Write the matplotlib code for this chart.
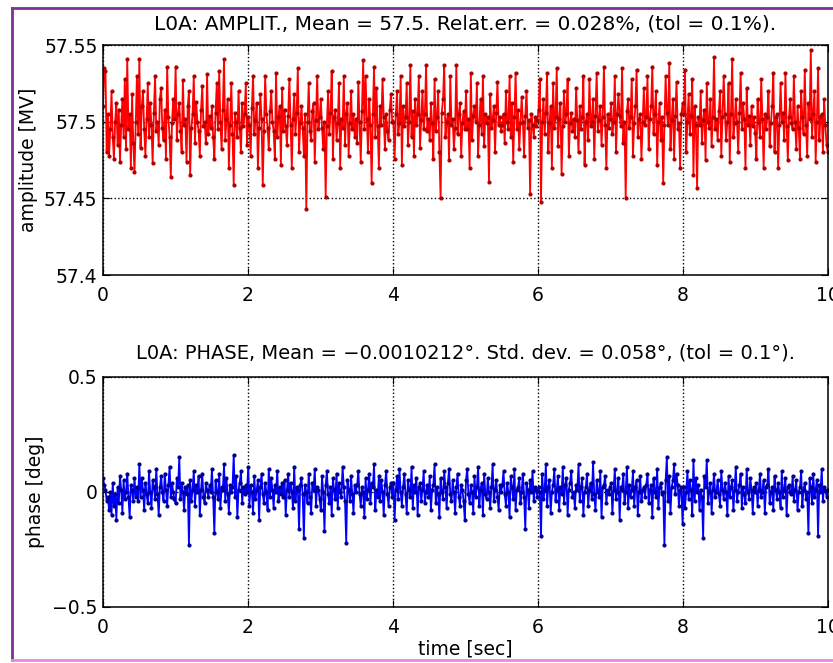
import numpy as np
import matplotlib
matplotlib.use("Agg")
import matplotlib.pyplot as plt
from matplotlib.lines import Line2D

plt.rcParams['font.family'] = ['DejaVu Sans']

# sampled RF signal, 10 s record
duration = 10.0

amplitude = [
    57.510, 57.535, 57.533, 57.480, 57.505, 57.478, 57.495, 57.520, 57.490, 57.476,
    57.500, 57.512, 57.485, 57.508, 57.474, 57.498, 57.515, 57.490, 57.528, 57.482,
    57.541, 57.495, 57.505, 57.470, 57.518, 57.486, 57.467, 57.500, 57.530, 57.492,
    57.541, 57.483, 57.510, 57.520, 57.495, 57.478, 57.502, 57.525, 57.490, 57.512,
    57.498, 57.473, 57.506, 57.530, 57.494, 57.500, 57.485, 57.515, 57.522, 57.496,
    57.488, 57.508, 57.476, 57.536, 57.503, 57.490, 57.464, 57.499, 57.515, 57.502,
    57.536, 57.488, 57.505, 57.512, 57.494, 57.480, 57.527, 57.498, 57.502, 57.474,
    57.510, 57.520, 57.465, 57.496, 57.505, 57.530, 57.486, 57.513, 57.500, 57.494,
    57.478, 57.508, 57.523, 57.497, 57.500, 57.486, 57.531, 57.492, 57.504, 57.496,
    57.510, 57.490, 57.476, 57.506, 57.525, 57.495, 57.533, 57.500, 57.482, 57.508,
    57.541, 57.488, 57.502, 57.515, 57.470, 57.498, 57.525, 57.492, 57.459, 57.506,
    57.500, 57.490, 57.520, 57.496, 57.480, 57.512, 57.497, 57.505, 57.525, 57.485,
    57.503, 57.498, 57.478, 57.509, 57.530, 57.492, 57.501, 57.512, 57.470, 57.496,
    57.518, 57.502, 57.459, 57.494, 57.530, 57.505, 57.496, 57.482, 57.507, 57.520,
    57.500, 57.494, 57.476, 57.532, 57.490, 57.503, 57.510, 57.472, 57.522, 57.494,
    57.508, 57.497, 57.485, 57.504, 57.528, 57.498, 57.470, 57.502, 57.518, 57.492,
    57.506, 57.535, 57.480, 57.499, 57.510, 57.496, 57.478, 57.505, 57.443, 57.500,
    57.525, 57.494, 57.488, 57.507, 57.512, 57.474, 57.501, 57.530, 57.495, 57.503,
    57.515, 57.496, 57.482, 57.500, 57.451, 57.497, 57.520, 57.492, 57.506, 57.533,
    57.476, 57.503, 57.508, 57.488, 57.499, 57.525, 57.470, 57.502, 57.496, 57.530,
    57.485, 57.505, 57.512, 57.478, 57.499, 57.520, 57.495, 57.505, 57.490, 57.502,
    57.486, 57.526, 57.500, 57.474, 57.507, 57.540, 57.495, 57.530, 57.502, 57.480,
    57.515, 57.498, 57.460, 57.505, 57.536, 57.490, 57.522, 57.497, 57.470, 57.510,
    57.498, 57.528, 57.503, 57.482, 57.505, 57.494, 57.488, 57.508, 57.518, 57.500,
    57.500, 57.476, 57.505, 57.520, 57.492, 57.499, 57.530, 57.472, 57.510, 57.497,
    57.503, 57.525, 57.485, 57.500, 57.537, 57.490, 57.507, 57.478, 57.515, 57.498,
    57.505, 57.530, 57.483, 57.501, 57.520, 57.495, 57.505, 57.537, 57.494, 57.502,
    57.488, 57.512, 57.499, 57.476, 57.528, 57.494, 57.503, 57.520, 57.480, 57.450,
    57.506, 57.515, 57.537, 57.490, 57.500, 57.505, 57.475, 57.530, 57.498, 57.502,
    57.482, 57.496, 57.537, 57.492, 57.505, 57.512, 57.478, 57.499, 57.507, 57.495,
    57.520, 57.495, 57.502, 57.470, 57.532, 57.488, 57.504, 57.510, 57.500, 57.525,
    57.478, 57.498, 57.515, 57.492, 57.530, 57.484, 57.505, 57.499, 57.503, 57.461,
    57.518, 57.496, 57.501, 57.510, 57.480, 57.506, 57.526, 57.498, 57.503, 57.494,
    57.498, 57.505, 57.486, 57.520, 57.500, 57.495, 57.530, 57.490, 57.512, 57.474,
    57.503, 57.532, 57.495, 57.508, 57.482, 57.499, 57.516, 57.500, 57.478, 57.504,
    57.520, 57.496, 57.501, 57.453, 57.505, 57.498, 57.490, 57.503, 57.497, 57.501,
    57.508, 57.528, 57.448, 57.500, 57.515, 57.492, 57.506, 57.532, 57.480, 57.499,
    57.510, 57.470, 57.525, 57.496, 57.503, 57.535, 57.484, 57.502, 57.512, 57.466,
    57.497, 57.520, 57.500, 57.505, 57.528, 57.478, 57.499, 57.506, 57.494, 57.502,
    57.490, 57.522, 57.501, 57.480, 57.510, 57.495, 57.503, 57.530, 57.472, 57.500,
    57.505, 57.488, 57.528, 57.497, 57.500, 57.515, 57.476, 57.504, 57.532, 57.494,
    57.501, 57.510, 57.485, 57.503, 57.536, 57.498, 57.470, 57.505, 57.496, 57.502,
    57.512, 57.492, 57.500, 57.530, 57.480, 57.505, 57.518, 57.504, 57.497, 57.535,
    57.486, 57.500, 57.450, 57.507, 57.515, 57.496, 57.503, 57.528, 57.478, 57.499,
    57.510, 57.534, 57.490, 57.502, 57.505, 57.476, 57.500, 57.522, 57.498, 57.503,
    57.530, 57.482, 57.502, 57.510, 57.536, 57.492, 57.505, 57.520, 57.472, 57.500,
    57.512, 57.488, 57.503, 57.460, 57.498, 57.530, 57.506, 57.498, 57.538, 57.482,
    57.501, 57.515, 57.476, 57.504, 57.526, 57.495, 57.499, 57.470, 57.505, 57.512,
    57.505, 57.534, 57.480, 57.500, 57.518, 57.492, 57.504, 57.528, 57.465, 57.510,
    57.498, 57.457, 57.503, 57.498, 57.520, 57.486, 57.501, 57.508, 57.475, 57.525,
    57.500, 57.496, 57.515, 57.484, 57.503, 57.542, 57.495, 57.502, 57.488, 57.507,
    57.520, 57.478, 57.503, 57.530, 57.505, 57.488, 57.500, 57.525, 57.474, 57.505,
    57.541, 57.490, 57.499, 57.515, 57.500, 57.480, 57.506, 57.532, 57.495, 57.512,
    57.502, 57.470, 57.522, 57.498, 57.504, 57.485, 57.510, 57.497, 57.503, 57.493,
    57.476, 57.515, 57.500, 57.490, 57.528, 57.502, 57.470, 57.505, 57.495, 57.503,
    57.520, 57.484, 57.499, 57.510, 57.532, 57.480, 57.503, 57.505, 57.470, 57.498,
    57.525, 57.500, 57.506, 57.488, 57.532, 57.497, 57.475, 57.503, 57.515, 57.499,
    57.495, 57.530, 57.500, 57.482, 57.510, 57.496, 57.476, 57.520, 57.503, 57.492,
    57.534, 57.498, 57.478, 57.512, 57.502, 57.547, 57.490, 57.505, 57.520, 57.474,
    57.500, 57.535, 57.488, 57.503, 57.505, 57.480, 57.515, 57.498, 57.485, 57.480,
]

phase = [
    0.06, 0.03, 0.01, -0.04, -0.02, -0.08, 0.00, -0.10, 0.04, -0.06,
    -0.01, -0.12, 0.02, -0.05, 0.07, 0.01, -0.09, 0.05, -0.03, 0.00,
    0.08, -0.02, -0.11, 0.03, 0.01, -0.04, 0.06, -0.02, 0.02, -0.04,
    0.12, -0.02, 0.06, 0.01, -0.08, 0.04, -0.01, -0.05, 0.09, 0.00,
    -0.07, 0.05, 0.02, -0.03, 0.10, -0.01, -0.10, 0.02, 0.07, 0.00,
    -0.04, 0.08, 0.01, -0.06, 0.03, 0.11, -0.02, 0.04, 0.00, -0.03,
    -0.05, 0.06, 0.02, 0.15, -0.03, 0.04, 0.00, -0.08, 0.02, -0.01,
    0.03, -0.23, 0.05, -0.04, 0.01, 0.09, -0.06, 0.03, 0.00, 0.07,
    -0.10, 0.01, 0.08, -0.02, -0.05, 0.04, 0.01, -0.02, 0.03, 0.00,
    0.10, -0.02, -0.18, 0.05, 0.00, -0.03, 0.08, -0.07, 0.02, 0.01,
    0.12, -0.04, 0.06, -0.01, -0.09, 0.03, 0.00, 0.02, 0.16, -0.02,
    0.07, -0.11, 0.01, 0.04, 0.09, -0.05, 0.02, -0.01, 0.03, 0.00,
    0.11, -0.06, 0.03, 0.00, -0.09, 0.07, -0.03, 0.01, 0.05, -0.12,
    0.02, 0.08, -0.01, -0.05, 0.04, 0.00, -0.08, 0.10, -0.02, 0.06,
    0.01, -0.07, 0.03, 0.00, 0.09, -0.04, 0.02, -0.01, 0.04, -0.02,
    0.05, -0.10, 0.01, 0.08, -0.02, 0.04, 0.00, -0.07, 0.11, -0.04,
    0.02, 0.01, -0.16, 0.03, 0.06, -0.01, -0.20, 0.03, 0.00, -0.05,
    0.08, -0.02, -0.09, 0.04, 0.01, 0.10, -0.06, 0.02, 0.01, -0.03,
    -0.08, 0.07, 0.00, -0.17, 0.03, 0.09, -0.01, -0.05, 0.02, -0.10,
    0.06, 0.01, -0.03, 0.08, -0.07, 0.04, 0.00, -0.02, 0.11, 0.02,
    -0.04, -0.22, 0.05, 0.01, -0.04, 0.07, -0.01, -0.09, 0.03, 0.00,
    0.03, 0.09, -0.01, -0.06, 0.02, 0.00, -0.11, 0.06, -0.03, 0.01,
    0.08, -0.05, 0.04, 0.02, 0.12, -0.08, 0.01, -0.02, 0.07, -0.04,
    0.05, 0.00, -0.10, 0.03, 0.09, -0.01, -0.06, 0.02, 0.04, -0.02,
    0.04, -0.12, 0.01, 0.07, -0.03, 0.10, 0.00, -0.06, 0.02, 0.08,
    -0.01, -0.09, 0.05, 0.01, -0.02, 0.11, -0.07, 0.03, 0.00, 0.06,
    -0.10, 0.02, 0.04, -0.04, 0.01, 0.09, -0.05, 0.00, 0.03, -0.02,
    0.07, -0.08, 0.01, 0.03, 0.12, -0.05, 0.02, -0.01, -0.11, 0.06,
    0.00, -0.03, 0.09, 0.02, -0.07, 0.04, 0.10, -0.01, -0.04, 0.05,
    0.00, -0.09, 0.02, 0.08, -0.02, -0.06, 0.03, 0.01, -0.04, -0.12,
    0.05, 0.10, -0.01, -0.05, 0.03, 0.00, -0.09, 0.07, -0.02, 0.02,
    0.11, -0.06, 0.01, 0.04, -0.10, 0.08, -0.01, -0.03, 0.06, 0.00,
    -0.07, 0.02, 0.12, -0.04, 0.01, 0.05, -0.02, -0.08, 0.03, 0.00,
    0.03, 0.09, -0.01, -0.06, 0.04, 0.00, -0.11, 0.07, 0.02, -0.03,
    0.10, -0.08, 0.01, 0.02, 0.06, -0.05, 0.00, 0.08, -0.02, -0.16,
    0.04, 0.01, -0.07, 0.05, 0.00, 0.09, -0.04, 0.02, 0.01, -0.02,
    0.02, 0.00, -0.19, 0.08, -0.03, 0.01, 0.12, -0.06, 0.02, 0.05,
    -0.09, 0.00, 0.03, 0.10, -0.04, 0.01, 0.07, -0.08, 0.02, -0.01,
    0.11, -0.05, 0.03, 0.06, -0.10, 0.01, 0.04, 0.09, -0.02, 0.00,
    -0.07, 0.03, 0.01, 0.12, -0.04, 0.02, 0.06, -0.10, 0.00, 0.02,
    0.08, -0.06, 0.01, 0.04, -0.03, 0.13, -0.01, -0.08, 0.05, 0.00,
    -0.02, 0.09, -0.11, 0.02, 0.03, 0.07, -0.05, 0.01, -0.01, 0.02,
    0.04, -0.09, 0.01, 0.10, -0.03, 0.00, 0.06, -0.12, 0.02, 0.01,
    0.08, -0.05, 0.00, 0.11, -0.07, 0.03, -0.02, 0.01, 0.09, -0.06,
    0.02, 0.05, -0.10, 0.00, 0.07, -0.04, 0.01, 0.02, -0.02, 0.03,
    0.08, -0.05, 0.01, 0.03, -0.11, 0.06, 0.00, -0.02, 0.10, -0.07,
    0.02, 0.04, -0.01, 0.00, -0.23, 0.05, 0.15, -0.04, 0.07, -0.09,
    0.02, 0.05, 0.12, -0.01, 0.08, 0.03, -0.06, 0.01, 0.02, -0.14,
    0.02, -0.07, 0.00, 0.09, -0.03, 0.05, 0.01, -0.10, 0.14, -0.04,
    0.06, 0.00, 0.03, -0.08, 0.01, -0.02, -0.20, 0.07, 0.02, 0.14,
    -0.05, 0.00, 0.04, -0.09, 0.01, 0.08, -0.02, 0.00, 0.05, -0.01,
    -0.06, 0.09, 0.01, -0.03, 0.04, 0.00, -0.10, 0.07, -0.02, 0.02,
    0.05, -0.08, 0.01, 0.11, -0.04, 0.00, 0.03, 0.08, -0.07, 0.02,
    -0.01, -0.05, 0.10, 0.00, -0.03, 0.06, 0.01, -0.09, 0.02, 0.00,
    0.04, -0.06, 0.01, 0.08, -0.02, 0.00, 0.05, -0.09, 0.02, 0.03,
    0.10, -0.05, 0.00, 0.02, -0.08, 0.07, 0.01, -0.03, 0.04, 0.00,
    -0.07, 0.09, -0.02, 0.01, 0.06, -0.10, 0.02, 0.03, 0.00, -0.01,
    0.07, -0.04, 0.01, 0.05, -0.08, 0.00, 0.02, 0.09, -0.06, 0.01,
    0.04, -0.03, 0.00, -0.18, 0.06, 0.02, -0.05, 0.08, -0.02, 0.01,
    0.05, -0.19, 0.03, 0.00, 0.10, -0.04, 0.02, 0.01, -0.02, 0.01,
]

amp_title = "L0A: AMPLIT., Mean = 57.5. Relat.err. = 0.028%, (tol = 0.1%)."
phase_title = "L0A: PHASE, Mean = \u22120.0010212\u00b0. Std. dev. = 0.058\u00b0, (tol = 0.1\u00b0)."

t_amp = np.linspace(0, duration, len(amplitude))
t_phase = np.linspace(0, duration, len(phase))

fig = plt.figure(figsize=(8.33, 6.63), dpi=100)

def style_axes(ax):
    ax.set_xlim(0, 10)
    ax.set_xticks([0, 2, 4, 6, 8, 10])
    ax.set_xticklabels(['0', '2', '4', '6', '8', '10'])
    ax.grid(True, linestyle=':', color='black', linewidth=1.0)
    ax.tick_params(direction='in', top=True, right=True, labelsize=13.5, length=5)
    ax.tick_params(axis='x', pad=8)
    ax.tick_params(axis='y', pad=4)
    for s in ax.spines.values():
        s.set_linewidth(1.1)

ax1 = fig.add_axes([0.1237, 0.585, 0.870, 0.347])
ax1.plot(t_amp, amplitude, '-', color='#ff0000', linewidth=1.3,
         marker='.', markersize=4, markerfacecolor='#b00000', markeredgecolor='#b00000')
ax1.set_ylim(57.4, 57.55)
ax1.set_yticks([57.4, 57.45, 57.5, 57.55])
ax1.set_yticklabels(['57.4', '57.45', '57.5', '57.55'])
ax1.set_ylabel('amplitude [MV]', fontsize=13.5, labelpad=4)
ax1.set_title(amp_title, fontsize=14.5, pad=11)
style_axes(ax1)

ax2 = fig.add_axes([0.1237, 0.0845, 0.870, 0.347])
ax2.plot(t_phase, phase, '-', color='#0000ff', linewidth=1.3,
         marker='.', markersize=4, markerfacecolor='#000090', markeredgecolor='#000090')
ax2.set_ylim(-0.5, 0.5)
ax2.set_yticks([-0.5, 0, 0.5])
ax2.set_yticklabels(['\u22120.5', '0', '0.5'])
ax2.set_ylabel('phase [deg]', fontsize=13.5, labelpad=5)
ax2.set_xlabel('time [sec]', fontsize=13.5, labelpad=2)
ax2.set_title(phase_title, fontsize=14, pad=13)
style_axes(ax2)

# window frame from the screenshot
fig.add_artist(Line2D([12/833, 12/833], [3/663, 1 - 8/663], transform=fig.transFigure,
                      color='#7b3294', linewidth=2))
fig.add_artist(Line2D([12/833, 1], [1 - 8/663, 1 - 8/663], transform=fig.transFigure,
                      color='#7b3294', linewidth=2))
fig.add_artist(Line2D([12/833, 1], [3/663, 3/663], transform=fig.transFigure,
                      color='#e08ce0', linewidth=2))

fig.savefig('out.png', dpi=100)
